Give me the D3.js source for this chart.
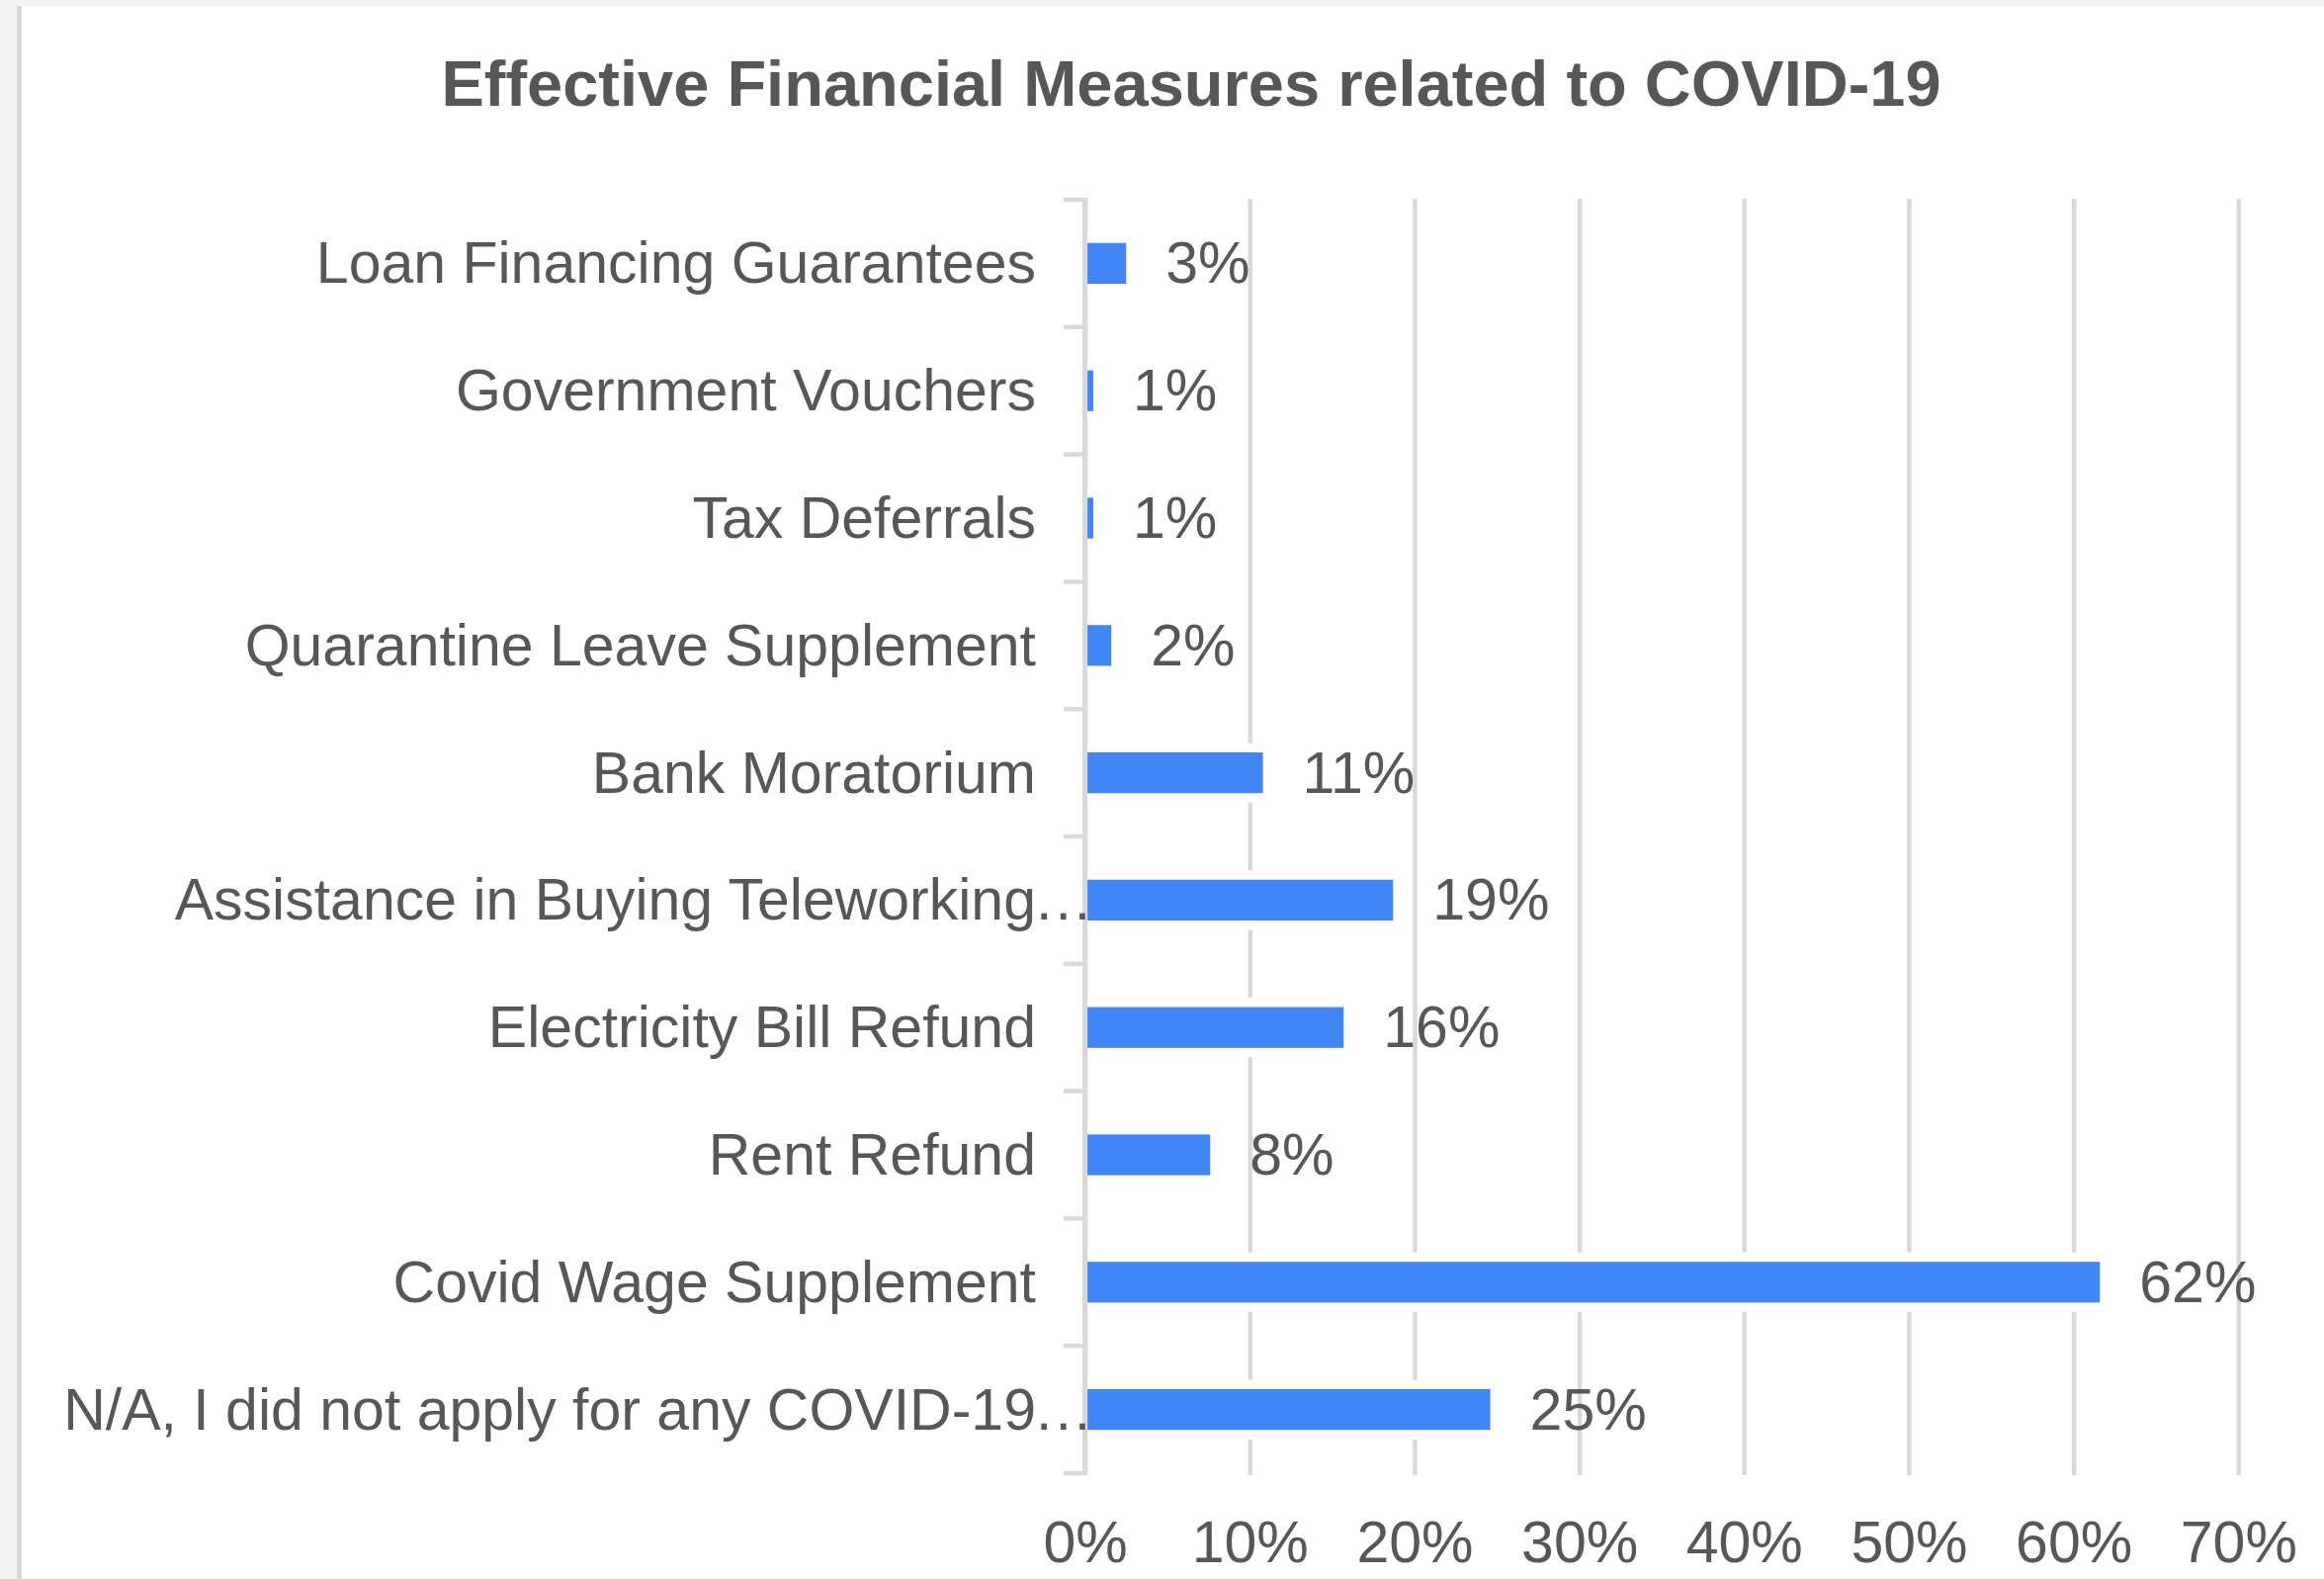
<!DOCTYPE html>
<html>
<head>
<meta charset="utf-8">
<script src="https://cdn.jsdelivr.net/npm/d3@7"></script>
<style>
  html, body { margin: 0; padding: 0; background: #f3f3f3; overflow: hidden; }
  svg { display: block; }
</style>
</head>
<body>
<svg id="chart" width="2351" height="1597"></svg>
<script>
const chartTitle = "Effective Financial Measures related to COVID-19";
const categories = [
  "Loan Financing Guarantees",
  "Government Vouchers",
  "Tax Deferrals",
  "Quarantine Leave Supplement",
  "Bank Moratorium",
  "Assistance in Buying Teleworking...",
  "Electricity Bill Refund",
  "Rent Refund",
  "Covid Wage Supplement",
  "N/A, I did not apply for any COVID-19..."
];
const values = [2.5, 0.5, 0.5, 1.6, 10.8, 18.7, 15.7, 7.6, 61.6, 24.6];
const xTicks = [0, 10, 20, 30, 40, 50, 60, 70];

const FONT = "'Liberation Sans', Arial, Helvetica, sans-serif";
const TEXT = "#575757";
const GRID = "#d9d9d9";
const BAR = "#4285f4";

const svg = d3.select("#chart");

// frame
svg.append("rect").attr("x", 0).attr("y", 0).attr("width", 2351).attr("height", 1597).attr("fill", "#f3f3f3");
svg.append("rect").attr("x", 17).attr("y", 6).attr("width", 2334).attr("height", 1591).attr("fill", GRID);
svg.append("rect").attr("x", 22).attr("y", 6).attr("width", 2329).attr("height", 1591).attr("fill", "#ffffff");

const plotTop = 201, plotBottom = 1492;
const x = d3.scaleLinear().domain([0, 70]).range([1097.6, 2264.3]);
const y = d3.scaleBand().domain(categories).range([202, 1490]).paddingInner(0.68).paddingOuter(0.34);

// title
svg.append("text")
  .attr("x", 1205).attr("y", 107)
  .attr("text-anchor", "middle")
  .attr("font-family", FONT).attr("font-weight", "bold").attr("font-size", 65)
  .attr("fill", TEXT)
  .text(chartTitle);

// x axis with gridlines
const xAxis = svg.append("g")
  .attr("transform", `translate(0,${plotBottom})`)
  .call(d3.axisBottom(x).tickValues(xTicks).tickFormat(d => d + "%").tickSize(-(plotBottom - plotTop)));
xAxis.select(".domain").remove();
xAxis.selectAll(".tick line").attr("stroke", GRID).attr("stroke-width", 4.5);
xAxis.selectAll(".tick text")
  .attr("y", 88).attr("dy", 0)
  .attr("font-family", FONT).attr("font-size", 59)
  .attr("fill", TEXT);

const data = categories.map((c, i) => ({ c, v: values[i] }));

// white knock-outs behind bars (gridline gaps)
svg.append("g").selectAll("rect").data(data).join("rect")
  .attr("x", x(0))
  .attr("y", d => y(d.c) - 9.5)
  .attr("width", d => x(d.v) - x(0))
  .attr("height", y.bandwidth() + 19)
  .attr("fill", "#ffffff");

// vertical axis line
svg.append("line")
  .attr("x1", x(0)).attr("x2", x(0))
  .attr("y1", plotTop).attr("y2", plotBottom)
  .attr("stroke", GRID).attr("stroke-width", 5);

// category boundary ticks
const gap = y.step() * y.paddingInner() / 2;
const bounds = categories.map(c => y(c) - gap);
bounds.push(y(categories[categories.length - 1]) + y.bandwidth() + gap);
svg.append("g").selectAll("line").data(bounds).join("line")
  .attr("x1", 1076).attr("x2", x(0) + 2.5)
  .attr("y1", d => d).attr("y2", d => d)
  .attr("stroke", GRID).attr("stroke-width", 4.5);

// bars
svg.append("g").selectAll("rect").data(data).join("rect")
  .attr("x", x(0) + 2.5)
  .attr("y", d => y(d.c))
  .attr("width", d => Math.max(0, x(d.v) - x(0) - 2.5))
  .attr("height", y.bandwidth())
  .attr("fill", BAR);

// value labels
svg.append("g").selectAll("text").data(data).join("text")
  .attr("x", d => x(d.v) + 40)
  .attr("y", d => y(d.c) + y.bandwidth() / 2 + 20)
  .attr("font-family", FONT).attr("font-size", 59)
  .attr("fill", TEXT)
  .text(d => Math.round(d.v) + "%");

// category labels
const labelRight = 1048;
const lab = svg.append("g");
data.forEach(d => {
  const cy = y(d.c) + y.bandwidth() / 2 + 20;
  const trunc = d.c.endsWith("...");
  const main = trunc ? d.c.slice(0, -3) : d.c;
  lab.append("text")
    .attr("x", labelRight).attr("y", cy)
    .attr("text-anchor", "end")
    .attr("font-family", FONT).attr("font-size", 59)
    .attr("fill", TEXT)
    .text(main);
  if (trunc) {
    lab.append("text")
      .attr("x", labelRight).attr("y", cy)
      .attr("font-family", FONT).attr("font-size", 59)
      .attr("letter-spacing", 3)
      .attr("fill", TEXT)
      .text("...");
  }
});
</script>
</body>
</html>
